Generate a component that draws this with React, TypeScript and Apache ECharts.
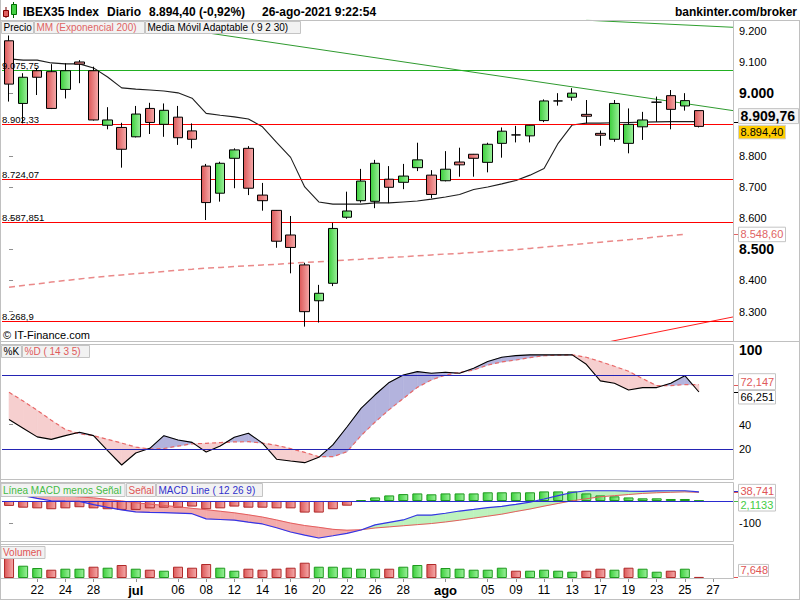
import React, { useEffect, useRef } from 'react';
import * as echarts from 'echarts';

const FONT = '"Liberation Sans", Arial, sans-serif';

// ---- x categories (trading days) ----
const dayLabels = ['18','21','22','23','24','25','28','29','30','jul','02','05','06','07','08','09','12','13','14','15','16','19','20','21','22','23','26','27','28','29','30','ago','03','04','05','06','09','10','11','12','13','16','17','18','19','20','23','24','25','26','27','30'];
const tickIdx = [2,4,6,9,12,14,16,18,20,22,24,26,28,31,34,36,38,40,42,44,46,48,50];

// ---- price data ----
const opens  = [9169,8968,9073,9070,9013,9101,9073,8898,8891,8861,8952,8901,8924,8880,8767,8680,8792,8824,8674,8625,8546,8450,8335,8391,8603,8656,8654,8725,8715,8762,8738,8720,8780,8805,8779,8840,8867,8864,8913,8976,8988,8933,8872,8853,8840,8893,8972,8993,8960,8945];
const closes = [9030,9052,9052,8952,9073,9094,8915,8915,8821,8934,8907,8946,8858,8853,8650,8776,8819,8696,8656,8526,8506,8300,8359,8567,8623,8719,8776,8699,8735,8787,8676,8757,8771,8792,8837,8879,8867,8898,8976,8976,9001,8927,8866,8968,8901,8915,8972,8949,8977,8894.4];
const lows   = [8974,8904,8995,8950,8984,9033,8913,8885,8762,8859,8870,8861,8835,8824,8594,8653,8696,8674,8624,8505,8423,8252,8265,8382,8598,8650,8632,8648,8693,8751,8664,8718,8733,8733,8747,8794,8843,8843,8908,8961,8977,8904,8832,8845,8808,8851,8909,8885,8945,8891];
const highs  = [9186,9065,9082,9094,9097,9107,9086,8956,8906,8960,8970,8968,8960,8904,8774,8781,8824,8831,8713,8626,8607,8457,8386,8585,8685,8758,8787,8767,8774,8842,8754,8815,8826,8806,8842,8891,8896,8899,8981,9001,9017,8979,8881,8979,8952,8941,8990,9011,9001,8945];
const ema200 = [8378,8384,8389,8395,8400,8405,8410,8414,8418,8422,8425,8429,8433,8436,8440,8442,8445,8447,8450,8452,8455,8458,8460,8463,8466,8468,8471,8474,8476,8479,8482,8485,8487,8490,8493,8496,8499,8503,8507,8511,8515,8519,8523,8527,8531,8535,8540,8544,8548.6];
const kama   = [9111,9107,9107,9098,9095,9095,9082,9053,9018,9014,9011,9008,9002,8985,8936,8930,8925,8918,8893,8843,8795,8700,8652,8645,8645,8645,8649,8649,8652,8655,8661,8668,8676,8692,8700,8710,8721,8738,8759,8840,8899,8905,8905,8906,8907,8908,8909,8909.7,8910,8909.76];
const levels = [9075.75, 8902.33, 8724.07, 8587.851, 8268.9];
const levelLabels = ['9.075,75', '8.902,33', '8.724,07', '8.587,851', '8.268,9'];
const levelColors = ['#22b022', '#ff0000', '#ff0000', '#ff0000', '#ff0000'];
const trendGreenHigh = [[41, 9235], [51.42, 9212.3]];
const trendGreenLow = [[8, 9235], [51.42, 8945]];
const trendRed = [[42, 8198], [51.42, 8283]];
const mainTickVals = [8300, 8400, 8500, 8600, 8700, 8800, 8900, 9000, 9100, 9200];
const mainLabelVals = [8300, 8400, 8500, 8600, 8700, 8800, 9000, 9100, 9200];

// ---- stochastic ----
const stochK = [44,37,30,28,31,33.7,31,19,7.3,17,20.8,31,27.5,25.6,17.8,22.6,29.7,32.9,25,12,10.5,9.2,13.5,23.5,38,53,64,74,80,82.7,81.4,82.2,81.4,85.4,90.8,94.3,95.6,96.2,96.2,96.2,96.2,88.6,75.2,73.3,67.9,69.8,69.8,73.3,79.4,66.251];
const stochD = [66,59,51.5,43.5,36,32.5,31,28,25,21.8,20.2,20.6,22.6,24.4,24.8,25.4,26,26.1,25,23.2,20.5,17.5,14,14,18,31,42,52,61,70,76,80,82,84,88,90.5,92.1,94,95.5,96,96.2,94.3,90.8,87,83,77,71.4,71.4,72.3,72.147];
const stochTickVals = [20, 40, 60, 80, 100];
const stochLabelVals = [20, 40, 100];

// ---- MACD ----
const macdLine = [38,24,12,1,-1,-2,-16,-29,-40,-49,-51,-52,-54,-57,-80,-83,-86,-95,-103,-120,-139,-153,-166,-156,-145,-130,-107,-96,-85,-63,-63,-55,-45,-38,-30,-24,-15,-5,9,24,38,46,46,46,44,43,45,46,46,40.85];
const signalLine = [58,48,38,30,24,18,14,7,0,-8,-14,-20,-26,-33,-39,-46,-53,-62,-72,-85,-99,-110,-118,-127,-131,-129,-121,-116,-111,-106,-101,-94,-86,-77,-68,-59,-47,-36,-23,-11,1,10,19,24,29,34,37,39,41,38.741];
const macdHist = [-22,-30,-33,-37,-33,-28,-33,-37,-40,-40,-33,-30,-30,-25,-37,-33,-25,-30,-30,-33,-33,-52,-52,-37,-21,4,16,25,31,34,30,34,34,34,39,39,39,39,43,43,43,34,25,21,16,12,12,9,9,2.1133];

// ---- volume ----
const volumes = [154,86,70,58,65,65,79,72,91,65,58,51,79,72,98,72,51,65,58,65,72,107,79,79,72,65,65,65,79,91,98,70,65,58,58,72,51,51,58,51,44,51,65,58,72,65,44,51,65,7.648];

const fmt = (v: number, dec: number) => {
  const s = Math.abs(v).toFixed(dec);
  const [ip, dp] = s.split('.');
  const sep = ip.replace(/\B(?=(\d{3})+(?!\d))/g, '.');
  return (v < 0 ? '-' : '') + sep + (dp ? ',' + dp : '');
};

const grad = (a: string, b: string) =>
  new echarts.graphic.LinearGradient(0, 0, 1, 0, [{ offset: 0, color: a }, { offset: 1, color: b }]);

const greenBar = () => ({ color: grad('#3ccf3c', '#9cf09c'), borderColor: '#1f9a1f', borderWidth: 1 });
const redBar = () => ({ color: grad('#dc5858', '#f5aaaa'), borderColor: '#b02a2a', borderWidth: 1 });

const makeFill = (upFill: string, downFill: string) => (_p: any, api: any) => {
  const x0 = api.value(0) as number;
  const a0 = api.value(1) as number, b0 = api.value(2) as number;
  const a1 = api.value(3) as number, b1 = api.value(4) as number;
  const x1 = x0 + 1;
  const d0 = a0 - b0, d1 = a1 - b1;
  const P = (x: number, y: number) => api.coord([x, y]);
  const mk = (pts: any[], up: boolean) => ({
    type: 'polygon', shape: { points: pts },
    style: { fill: up ? upFill : downFill, stroke: up ? upFill : downFill, lineWidth: 0.6 },
  });
  const children: any[] = [];
  if (d0 * d1 >= 0) {
    if (d0 !== 0 || d1 !== 0) children.push(mk([P(x0, a0), P(x1, a1), P(x1, b1), P(x0, b0)], d0 + d1 > 0));
  } else {
    const t = d0 / (d0 - d1);
    const xc = x0 + t, yc = a0 + (a1 - a0) * t;
    children.push(mk([P(x0, a0), P(xc, yc), P(x0, b0)], d0 > 0));
    children.push(mk([P(xc, yc), P(x1, a1), P(x1, b1)], d1 > 0));
  }
  return { type: 'group', children };
};

const XMIN = -0.5, XMAX = 51.42;
const xAx = (g: number, show: boolean) => ({
  type: 'value', gridIndex: g, min: XMIN, max: XMAX,
  splitLine: { show: false },
  axisLine: { show: false },
  axisTick: show ? { show: true, customValues: tickIdx, length: 4, lineStyle: { color: '#909090' } } : { show: false },
  axisLabel: show ? {
    show: true, customValues: tickIdx, margin: 6, color: '#000', fontSize: 12, fontFamily: FONT,
    formatter: (v: number) => {
      const s = dayLabels[Math.round(v)] || '';
      return s === 'jul' || s === 'ago' ? `{b|${s}}` : s;
    },
    rich: { b: { fontWeight: 'bold', fontSize: 13, fontFamily: FONT, color: '#000' } },
  } : { show: false },
});

const lineSeries = (xi: number, data: number[][], color: string, width: number, extra: any = {}) => ({
  type: 'line', xAxisIndex: xi, yAxisIndex: xi, data, symbol: 'none', showSymbol: false,
  lineStyle: { color, width, ...(extra.lineStyle || {}) }, silent: true, clip: true, z: extra.z ?? 4,
  ...(extra.markLine ? { markLine: extra.markLine } : {}),
});

const hLines = (vals: number[], color: string) => ({
  silent: true, symbol: ['none', 'none'], label: { show: false },
  lineStyle: { color, width: 1, type: 'solid' },
  data: vals.map((v) => ({ yAxis: v })),
});

function buildOption() {
  return {
    animation: false,
    backgroundColor: '#ffffff',
    textStyle: { fontFamily: FONT },
    grid: [
      { left: 2, top: 20, width: 731, height: 321 },
      { left: 2, top: 344, width: 731, height: 135 },
      { left: 2, top: 483, width: 731, height: 58 },
      { left: 2, top: 544, width: 731, height: 34 },
    ],
    xAxis: [xAx(0, false), xAx(1, false), xAx(2, false), xAx(3, true)],
    yAxis: [
      {
        type: 'value', gridIndex: 0, position: 'right', min: 8205.9, max: 9235.7,
        splitLine: { show: false }, axisLine: { show: false },
        axisTick: { show: true, length: 4, customValues: mainTickVals, lineStyle: { color: '#909090' } },
        axisLabel: {
          customValues: mainLabelVals, margin: 6, color: '#000', fontSize: 11, fontFamily: FONT,
          formatter: (v: number) => (v === 9000 || v === 8500 ? `{b|${fmt(v, 0)}}` : fmt(v, 0)),
          rich: { b: { fontWeight: 'bold', fontSize: 14, fontFamily: FONT, color: '#000' } },
        },
      },
      {
        type: 'value', gridIndex: 1, position: 'right', min: -4, max: 105,
        splitLine: { show: false }, axisLine: { show: false },
        axisTick: { show: true, length: 4, customValues: stochTickVals, lineStyle: { color: '#909090' } },
        axisLabel: {
          customValues: stochLabelVals, margin: 6, color: '#000', fontSize: 11, fontFamily: FONT,
          formatter: (v: number) => (v === 100 ? `{b|${v}}` : String(v)),
          rich: { b: { fontWeight: 'bold', fontSize: 14, fontFamily: FONT, color: '#000' } },
        },
      },
      {
        type: 'value', gridIndex: 2, position: 'right', min: -179.4, max: 80.7,
        splitLine: { show: false }, axisLine: { show: false },
        axisTick: { show: true, length: 4, customValues: [-100], lineStyle: { color: '#909090' } },
        axisLabel: { customValues: [-100], margin: 6, color: '#000', fontSize: 11, fontFamily: FONT, formatter: (v: number) => String(v) },
      },
      {
        type: 'value', gridIndex: 3, position: 'right', min: 0, max: 238,
        splitLine: { show: false }, axisLine: { show: false }, axisTick: { show: false }, axisLabel: { show: false },
      },
    ],
    series: [
      // main panel
      {
        type: 'candlestick', xAxisIndex: 0, yAxisIndex: 0, barWidth: 10, clip: true, z: 5, silent: true,
        data: opens.map((o, i) => [i, o, closes[i], lows[i], highs[i]]),
        itemStyle: {
          color: grad('#3ccf3c', '#9cf09c'), color0: grad('#dc5858', '#f5aaaa'),
          borderColor: '#000', borderColor0: '#000', borderColorDoji: '#000', borderWidth: 1,
        },
        markLine: {
          silent: true, symbol: ['none', 'none'], label: { show: false },
          data: levels.map((v, k) => ({ yAxis: v, lineStyle: { color: levelColors[k], width: 1, type: 'solid' } })),
        },
      },
      lineSeries(0, ema200.map((v, i) => [i, v]), '#e67474', 1.5, { lineStyle: { type: [6, 4], opacity: 0.85 }, z: 3 }),
      lineSeries(0, kama.map((v, i) => [i, v]), '#1e1e1e', 1.1, { z: 4 }),
      lineSeries(0, trendGreenHigh, '#2f9f2f', 1, { z: 3 }),
      lineSeries(0, trendGreenLow, '#2f9a2f', 1, { z: 3 }),
      lineSeries(0, trendRed, '#ff2020', 1, { z: 3 }),

      // stochastic
      {
        type: 'custom', xAxisIndex: 1, yAxisIndex: 1, clip: true, silent: true, z: 1,
        data: stochK.slice(0, -1).map((k, i) => [i, k, stochD[i], stochK[i + 1], stochD[i + 1]]),
        encode: { x: 0, y: [1, 2, 3, 4] },
        renderItem: makeFill('#b3b3dd', '#f6cfcf'),
      },
      lineSeries(1, stochD.map((v, i) => [i, v]), '#e86868', 1.2, { lineStyle: { type: [4, 3] }, z: 3 }),
      lineSeries(1, stochK.map((v, i) => [i, v]), '#000000', 1.1, { z: 4, markLine: hLines([80, 20], '#2424b4') }),

      // MACD
      {
        type: 'custom', xAxisIndex: 2, yAxisIndex: 2, clip: true, silent: true, z: 1,
        data: macdLine.slice(0, -1).map((m, i) => [i, m, signalLine[i], macdLine[i + 1], signalLine[i + 1]]),
        encode: { x: 0, y: [1, 2, 3, 4] },
        renderItem: makeFill('#bdf2bd', '#f3abab'),
      },
      {
        type: 'bar', xAxisIndex: 2, yAxisIndex: 2, barWidth: 10, silent: true, z: 2,
        data: macdHist.map((v, i) => ({ value: [i, v], itemStyle: v >= 0 ? greenBar() : redBar() })),
      },
      lineSeries(2, signalLine.map((v, i) => [i, v]), '#e45e5e', 1, { z: 3 }),
      lineSeries(2, macdLine.map((v, i) => [i, v]), '#3434e6', 1.2, { z: 4, markLine: hLines([0], '#2a2ad0') }),

      // volume
      {
        type: 'bar', xAxisIndex: 3, yAxisIndex: 3, barWidth: 10, silent: true, z: 2,
        data: volumes.map((v, i) => ({
          value: [i, v],
          itemStyle: i === 0 || closes[i] < closes[i - 1] ? redBar() : greenBar(),
        })),
      },
    ],
  };
}

const rectEl = (x: number, y: number, w: number, h: number, fill: string, stroke = '#c4c4c4', z = 50) => ({
  type: 'rect', z, silent: true, shape: { x: x + 0.5, y: y + 0.5, width: w, height: h },
  style: { fill, stroke, lineWidth: 1 },
});
const textEl = (x: number, y: number, text: string, fill: string, font: string, align = 'left', valign = 'middle', z = 51) => ({
  type: 'text', z, silent: true,
  style: { text, x, y, fill, font, textAlign: align, textVerticalAlign: valign, verticalAlign: valign },
});
const lineEl = (x1: number, y1: number, x2: number, y2: number, stroke = '#c0c0c0', z = 60) => ({
  type: 'line', z, silent: true, shape: { x1, y1, x2, y2 }, style: { stroke, lineWidth: 1 },
});
const boxEl = (x: number, y: number, w: number, h: number, text: string, color: string, font: string, bg = '#f2f2f2', border = '#c4c4c4', pad = 2) => [
  rectEl(x, y, w, h, bg, border, 55),
  textEl(x + 0.5 + pad, y + 0.5 + h / 2, text, color, font, 'left', 'middle', 56),
];

function buildGraphics(chart: any) {
  const py = (ax: number, v: number) => chart.convertToPixel({ yAxisIndex: ax }, v) as number;
  const f10 = `10px ${FONT}`;
  const f11 = `11px ${FONT}`;
  const els: any[] = [];

  // frames
  els.push(lineEl(0, 20.5, 800, 20.5));
  els.push(lineEl(0, 341.5, 800, 341.5));
  els.push(lineEl(0.5, 0, 0.5, 600));
  els.push(lineEl(799.5, 20, 799.5, 600));
  els.push(lineEl(0, 599.5, 800, 599.5));
  [[20, 321], [344, 135], [482, 59], [544, 34]].forEach(([t, h]) => {
    els.push({ type: 'rect', z: 60, silent: true, shape: { x: 0.5, y: t + 0.5, width: 733, height: h }, style: { fill: 'none', stroke: '#c0c0c0', lineWidth: 1 } });
  });

  // header
  els.push(lineEl(6, 7, 6, 18, '#700000', 70));
  els.push(rectEl(3, 10, 5, 6, '#e06060', '#800000', 71));
  els.push(lineEl(13.5, 2, 13.5, 18, '#006000', 70));
  els.push(rectEl(11, 4, 5, 10, '#44d044', '#007000', 71));
  const hb = `bold 12px ${FONT}`;
  els.push(textEl(23, 11.5, 'IBEX35 Index', '#000', hb));
  els.push(textEl(107, 11.5, 'Diario', '#000', hb));
  els.push(textEl(149, 11.5, `${fmt(closes[closes.length - 1], 2)} (-0,92%)`, '#000', hb));
  els.push(textEl(262, 11.5, '26-ago-2021 9:22:54', '#000', hb));
  els.push(textEl(797, 11.5, 'bankinter.com/broker', '#000', hb, 'right'));

  // main legend boxes
  els.push(...boxEl(1, 21, 32, 12, 'Precio', '#000', f10));
  els.push(...boxEl(34, 21, 110, 12, 'MM (Exponencial 200)', '#e06464', f10));
  els.push(...boxEl(145, 21, 155, 12, 'Media Móvil Adaptable ( 9 2 30)', '#000', f10));
  els.push(textEl(3, 335, '© IT-Finance.com', '#000', f11));

  // level labels
  levels.forEach((v, k) => {
    els.push(textEl(2, py(0, v) + 0.5, levelLabels[k], '#000', `9.5px ${FONT}`, 'left', 'bottom', 52));
  });

  // main value boxes
  const kY = py(0, kama[kama.length - 1]);
  const cY = py(0, closes[closes.length - 1]);
  const eY = py(0, ema200[ema200.length - 1]);
  els.push(lineEl(733, Math.round(kY) + 0.5, 738, Math.round(kY) + 0.5, '#000', 57));
  els.push(lineEl(733, Math.round(eY) + 0.5, 738, Math.round(eY) + 0.5, '#e06464', 57));
  els.push(...boxEl(738, kY - 13.5, 60, 15, fmt(kama[kama.length - 1], 2), '#000', `bold 14px ${FONT}`, '#f4f4f4'));
  els.push(...boxEl(738, cY - 1.5, 47, 13.5, fmt(closes[closes.length - 1], 2), '#000', f11, '#ffcc00', '#d0d0d0'));
  els.push(...boxEl(738, eY - 7.5, 47, 14.5, fmt(ema200[ema200.length - 1], 2), '#e06464', f11, '#ffffff'));

  // stochastic
  els.push(...boxEl(1, 345, 20, 12, '%K', '#000', f10));
  els.push(...boxEl(22, 345, 67, 12, '%D ( 14 3 5)', '#e05a5a', f10));
  const dY = py(1, stochD[stochD.length - 1]);
  const sKY = py(1, stochK[stochK.length - 1]);
  els.push(lineEl(733, Math.round(dY) + 0.5, 738, Math.round(dY) + 0.5, '#e05a5a', 57));
  els.push(lineEl(733, Math.round(sKY) + 0.5, 738, Math.round(sKY) + 0.5, '#000', 57));
  els.push(...boxEl(738, dY - 11.5, 37, 16, fmt(stochD[stochD.length - 1], 3), '#e05a5a', f11, '#ffffff'));
  els.push(...boxEl(738, sKY - 2, 37, 13.5, fmt(stochK[stochK.length - 1], 3), '#000', f11, '#ffffff'));

  // MACD
  els.push(...boxEl(0.5, 483, 124, 13, 'Línea MACD menos Señal', '#44bb44', f10));
  els.push(...boxEl(126, 483, 29, 13, 'Señal', '#e05555', f10));
  els.push(...boxEl(156, 483, 106, 13, 'MACD Line ( 12 26 9)', '#3030cc', f10));
  const sY = py(2, signalLine[signalLine.length - 1]);
  const hY = py(2, macdHist[macdHist.length - 1]);
  els.push(lineEl(733, Math.round(sY) + 0.5, 738, Math.round(sY) + 0.5, '#e05555', 57));
  els.push(lineEl(733, Math.round(sY) - 0.5, 738, Math.round(sY) - 0.5, '#3030cc', 57));
  els.push(lineEl(733, Math.round(hY) + 0.5, 738, Math.round(hY) + 0.5, '#44bb44', 57));
  els.push(...boxEl(738, sY - 8.5, 37, 13, fmt(signalLine[signalLine.length - 1], 3), '#e05555', f11, '#ffffff'));
  els.push(...boxEl(738, hY - 3, 37, 13, fmt(macdHist[macdHist.length - 1], 4), '#44cc44', f11, '#ffffff'));

  // volume
  els.push(...boxEl(0.5, 546, 44, 12, 'Volumen', '#e05555', f10));
  const vY = py(3, volumes[volumes.length - 1]);
  els.push(lineEl(733, Math.round(vY) + 0.5, 738, Math.round(vY) + 0.5, '#e05555', 57));
  els.push(...boxEl(738, vY - 13, 30, 12, fmt(volumes[volumes.length - 1], 3), '#e05555', f11, '#ffffff'));

  return els;
}

export default function App() {
  const ref = useRef<HTMLDivElement>(null);
  useEffect(() => {
    if (!ref.current) return;
    const chart = echarts.init(ref.current, null, { renderer: 'svg' });
    chart.setOption(buildOption() as any);
    chart.setOption({ graphic: { elements: buildGraphics(chart) } } as any);
    return () => chart.dispose();
  }, []);
  return <div ref={ref} style={{ position: 'fixed', left: 0, top: 0, width: 800, height: 600, background: '#fff' }} />;
}
